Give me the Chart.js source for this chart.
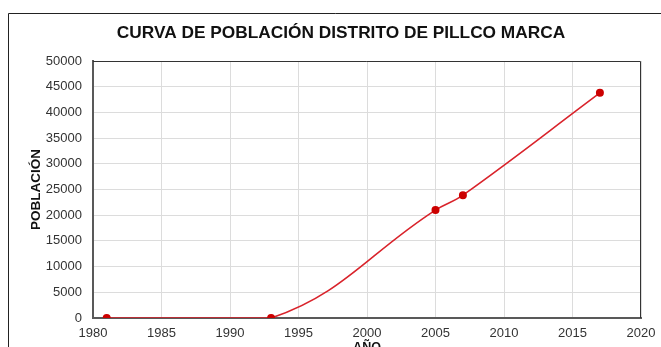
<!DOCTYPE html>
<html>
<head>
<meta charset="utf-8">
<title>Curva de población</title>
<script src="https://cdn.jsdelivr.net/npm/chart.js@4.4.1/dist/chart.umd.min.js"></script>
<style>
  html, body { margin: 0; padding: 0; background: #fff; }
  #wrap { width: 661px; height: 347px; position: relative; }
</style>
</head>
<body>
<div id="wrap"><canvas id="poblacion"></canvas></div>
<script>
// Census years and population of Pillco Marca district
const anios = [1981, 1993, 2005, 2007, 2017];
const poblacion = [0, 0, 21000, 23900, 43800];

const xMin = 1980, xMax = 2020, xStep = 5;
const yMin = 0, yMax = 50000, yStep = 5000;

const titulo = 'CURVA DE POBLACIÓN DISTRITO DE PILLCO MARCA';
const fontFamily = "'Liberation Sans', Arial, sans-serif";

// outer frame, title and the thin border round the plot area
const frame = {
  id: 'frame',
  afterDraw(chart) {
    const ctx = chart.ctx;
    const a = chart.chartArea;
    ctx.save();
    ctx.strokeStyle = '#222';
    ctx.lineWidth = 1;
    ctx.beginPath();
    ctx.moveTo(8.5, 400);
    ctx.lineTo(8.5, 13.5);
    ctx.lineTo(700, 13.5);
    ctx.stroke();
    ctx.strokeStyle = '#333';
    ctx.beginPath();
    ctx.moveTo(a.left, a.top + 0.5);
    ctx.lineTo(a.right - 0.5, a.top + 0.5);
    ctx.lineTo(a.right - 0.5, a.bottom);
    ctx.stroke();

    ctx.fillStyle = '#111';
    ctx.font = 'bold 17.3px ' + fontFamily;
    ctx.textAlign = 'center';
    ctx.textBaseline = 'middle';
    ctx.fillText(titulo, 341, 33.5);
    ctx.restore();
  }
};

new Chart(document.getElementById('poblacion').getContext('2d'), {
  type: 'line',
  data: {
    datasets: [{
      label: 'Población',
      data: anios.map((a, i) => ({ x: a, y: poblacion[i] })),
      borderColor: '#d9232b',
      borderWidth: 1.6,
      backgroundColor: '#cc0000',
      pointBackgroundColor: '#cc0000',
      pointBorderColor: '#cc0000',
      pointRadius: 3.2,
      tension: 0.4,
      fill: false
    }]
  },
  options: {
    responsive: true,
    maintainAspectRatio: false,
    animation: false,
    layout: {
      padding: { left: 28, right: 20, top: 61, bottom: 0 }
    },
    plugins: {
      legend: { display: false },
      tooltip: { enabled: false },
      title: { display: false }
    },
    scales: {
      x: {
        type: 'linear',
        min: xMin,
        max: xMax,
        afterFit(scale) {
          scale.height = 29;
          scale.paddingLeft = 0;
          scale.paddingRight = 0;
        },
        ticks: {
          stepSize: xStep,
          padding: 8,
          color: '#333',
          font: { family: fontFamily, size: 13 },
          callback: v => String(v)
        },
        grid: { color: '#dcdcdc', drawTicks: false },
        border: { color: '#595959', width: 2 },
        title: {
          display: true,
          text: 'AÑO',
          color: '#111',
          font: { family: fontFamily, size: 12.5, weight: 'bold' },
          padding: { top: 0, bottom: -8 }
        }
      },
      y: {
        min: yMin,
        max: yMax,
        afterFit(scale) {
          scale.width = 65;
          scale.paddingTop = 0;
          scale.paddingBottom = 0;
        },
        ticks: {
          stepSize: yStep,
          padding: 11,
          color: '#333',
          font: { family: fontFamily, size: 13 },
          callback: v => String(v)
        },
        grid: { color: '#dcdcdc', drawTicks: false },
        border: { color: '#595959', width: 2 },
        title: {
          display: true,
          text: 'POBLACIÓN',
          color: '#111',
          font: { family: fontFamily, size: 13.5, weight: 'bold' },
          padding: { top: 0, bottom: 0 }
        }
      }
    }
  },
  plugins: [frame]
});
</script>
</body>
</html>
